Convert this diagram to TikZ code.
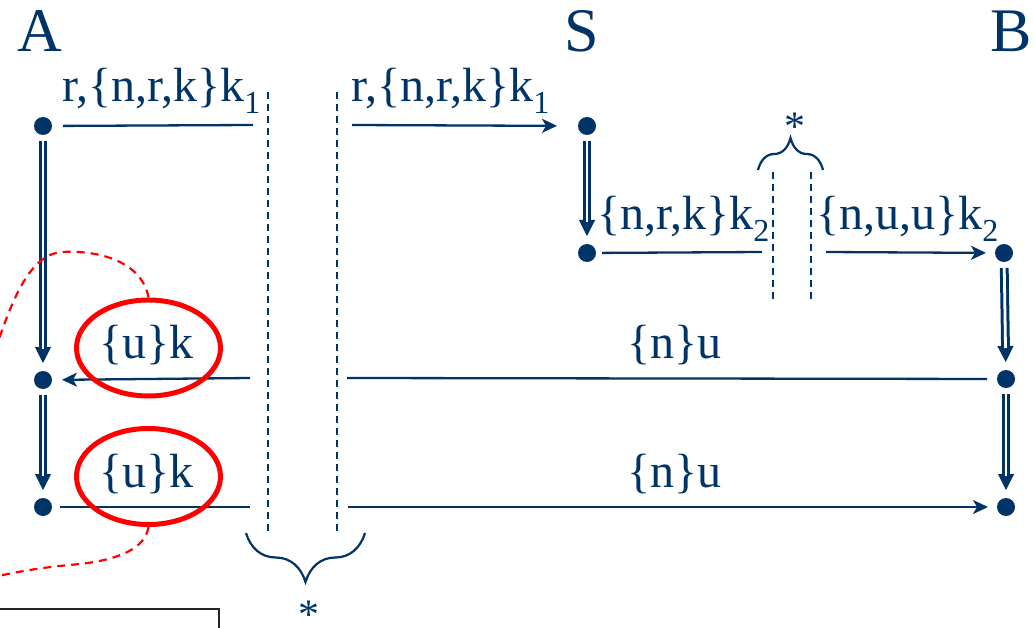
\documentclass[tikz,border=0pt]{standalone}
\usepackage{fontspec}
\setmainfont{Liberation Serif}
\usetikzlibrary{arrows.meta,decorations.pathreplacing,shapes.geometric}
\definecolor{navy}{RGB}{0,51,102}
\newcommand{\subsc}[1]{\raisebox{-0.24em}{\fontsize{32}{32}\selectfont #1}}
\begin{document}
\begin{tikzpicture}[x=1pt,y=-1pt,
  dot/.style={circle,fill=navy,inner sep=0pt,minimum size=18pt,outer sep=0pt},
  msg/.style={draw=navy,line width=2.3pt},
  arr/.style={msg,-{Stealth[length=15pt,width=14pt,inset=4pt]}},
  dbltip/.style={draw=navy,line width=1pt,-{Triangle[length=16pt,width=16pt]},
     shorten <=6pt,shorten >=8pt},
  dbl/.style={draw=navy,double=white,double distance=2.8pt,line width=3pt,
     shorten <=6pt,shorten >=22pt},
  cut/.style={draw=navy,line width=1.8pt,dash pattern=on 7pt off 5pt},
  lbl/.style={text=navy,font=\fontsize{48}{52}\selectfont,inner sep=0pt,anchor=base west},
  role/.style={text=navy,font=\fontsize{62}{66}\selectfont,inner sep=0pt,anchor=base},
  star/.style={text=navy,font=\fontsize{42}{44}\selectfont,inner sep=0pt,anchor=base,text depth=0pt},
  brc/.style={draw=navy,line width=2.2pt,decorate},
  redel/.style={ellipse,draw=red,line width=5pt,inner sep=0pt,minimum width=144pt,minimum height=96pt},
  reddash/.style={draw=red,line width=2.2pt,dash pattern=on 8pt off 6pt}
]
\useasboundingbox (0,0) rectangle (1035,628);

% roles
\node[role] (A) at (40,52) {A};
\node[role] (S) at (582,52) {S};
\node[role] (B) at (1011,52) {B};

% dots
\node[dot] (a1) at (43,126) {};
\node[dot] (a2) at (43,380) {};
\node[dot] (a3) at (43,507) {};
\node[dot] (s1) at (587,126) {};
\node[dot] (s2) at (587,253) {};
\node[dot] (b2) at (1004,253) {};
\node[dot] (b3) at (1006,379) {};
\node[dot] (b4) at (1006,507) {};

% gaps
\coordinate (g1l) at (253,125);
\coordinate (g1r) at (352,125);
\coordinate (g2l) at (762,252);
\coordinate (g2r) at (826,252);
\coordinate (g3l) at (250,378);
\coordinate (g3r) at (347,378);
\coordinate (g4l) at (250,507);
\coordinate (g4r) at (348,507);

% dashed cuts
\coordinate (d1t) at (268,92);  \coordinate (d1b) at (268,534);
\coordinate (d2t) at (337,92);  \coordinate (d2b) at (337,534);
\coordinate (d3t) at (773,172); \coordinate (d3b) at (773,300);
\coordinate (d4t) at (811,172); \coordinate (d4b) at (811,300);
\draw[cut] (d1t) -- (d1b);
\draw[cut] (d2t) -- (d2b);
\draw[cut] (d3t) -- (d3b);
\draw[cut] (d4t) -- (d4b);

% messages
\draw[msg,shorten <=11pt] (a1) -- (g1l);
\draw[arr,shorten >=21pt] (g1r) -- (s1);
\draw[msg,shorten <=6pt] (s2) -- (g2l);
\draw[arr,shorten >=9pt] (g2r) -- (b2);
\draw[msg,shorten <=10pt] (b3) -- (g3r);
\draw[arr,shorten >=10pt] (g3l) -- (a2);
\draw[msg,shorten <=8pt] (a3) -- (g4l);
\draw[arr,shorten >=9pt] (g4r) -- (b4);

% double arrows
\draw[dbltip] (a1) -- (a2); \draw[dbl] (a1) -- (a2);
\draw[dbltip] (a2) -- (a3); \draw[dbl] (a2) -- (a3);
\draw[dbltip] (s1) -- (s2); \draw[dbl] (s1) -- (s2);
\draw[dbltip] (b2) -- (b3); \draw[dbl] (b2) -- (b3);
\draw[dbltip] (b3) -- (b4); \draw[dbl] (b3) -- (b4);

% labels
\node[lbl] (m1) at (62,102) {r,\{n,r,k\}k\subsc{1}};
\node[lbl] (m2) at (351,102) {r,\{n,r,k\}k\subsc{1}};
\node[lbl] (m3) at (597,230) {\{n,r,k\}k\subsc{2}};
\node[lbl] (m4) at (816,230) {\{n,u,u\}k\subsc{2}};
\node[lbl] (m5) at (627,358) {\{n\}u};
\node[lbl] (m6) at (627,487) {\{n\}u};
\node[lbl] (m7) at (99,358) {\{u\}k};
\node[lbl] (m8) at (99,487) {\{u\}k};

% braces
\coordinate (br1) at (365,533); \coordinate (br2) at (246,533);
\draw[brc,decoration={brace,amplitude=49pt}] (br1) -- (br2);
\node[star] (st1) at (309,628) {*};
\coordinate (br3) at (758,170); \coordinate (br4) at (823,170);
\draw[brc,decoration={brace,amplitude=32pt}] (br3) -- (br4);
\node[star] (st2) at (795,141) {*};

% red highlights
\node[redel] (e1) at (148.5,348) {};
\node[redel] (e2) at (148.5,476.5) {};
\coordinate (c1) at (-4,348);
\coordinate (c2) at (-6,577);
\draw[reddash] (e1.north) .. controls (142,262) and (100,250) .. (62,252)
   .. controls (30,254) and (12,300) .. (c1);
\draw[reddash] (e2.south) .. controls (145,550) and (115,560) .. (80,564)
   .. controls (45,567) and (20,571) .. (c2);

% box at bottom left
\draw[line width=2pt,black!85] (-5,609) -- (219,609) -- (219,640);
\end{tikzpicture}
\end{document}
